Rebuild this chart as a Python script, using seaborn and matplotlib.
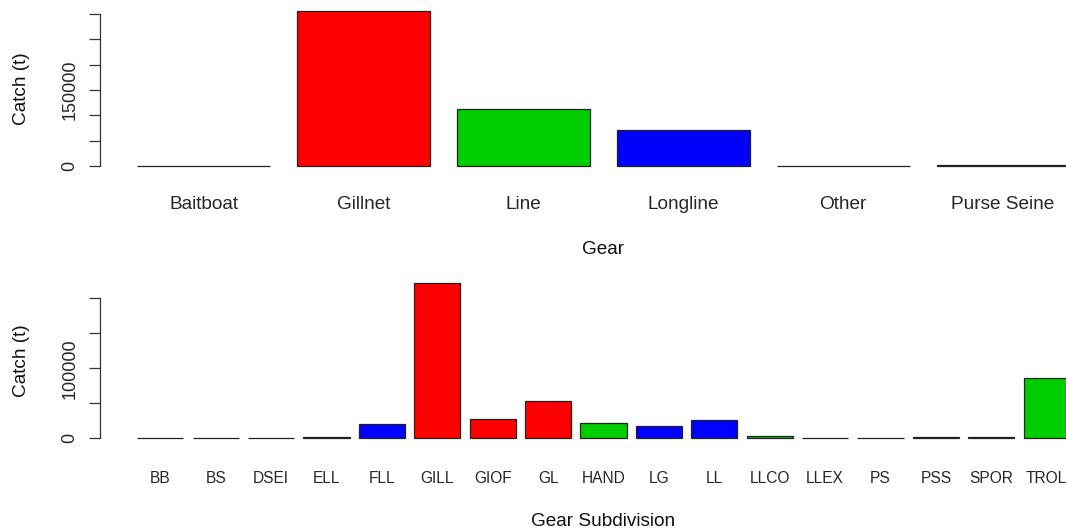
import matplotlib
matplotlib.use("Agg")
import matplotlib.pyplot as plt
import seaborn as sns

# Catch by gear (tonnes)
gear = ["Baitboat", "Gillnet", "Line", "Longline", "Other", "Purse Seine"]
gear_catch = [300, 306500, 112500, 71000, 600, 2500]
gear_colors = ["black", "red", "#00CD00", "blue", "cyan", "magenta"]
gear_ticks = [0, 50000, 100000, 150000, 200000, 250000, 300000]
gear_ticklabels = ["0", "", "", "150000", "", "", ""]

# Catch by gear subdivision (tonnes)
subdiv = ["BB", "BS", "DSEI", "ELL", "FLL", "GILL", "GIOF", "GL", "HAND",
          "LG", "LL", "LLCO", "LLEX", "PS", "PSS", "SPOR", "TROL"]
subdiv_catch = [300, 200, 200, 1800, 20300, 221600, 27600, 53400, 21700,
                17500, 26000, 3500, 200, 200, 1800, 1000, 86500]
subdiv_colors = ["black", "magenta", "cyan", "blue", "blue", "red", "red", "red",
                 "#00CD00", "blue", "blue", "#00CD00", "cyan", "magenta",
                 "magenta", "black", "#00CD00"]
subdiv_ticks = [0, 50000, 100000, 150000, 200000]
subdiv_ticklabels = ["0", "", "100000", "", ""]

sns.set_style("white")
plt.rcParams["font.family"] = ["Liberation Sans", "DejaVu Sans"]

W, H = 1066, 531
fig = plt.figure(figsize=(W / 100, H / 100), dpi=100)

def px_axes(left, top, right, bottom):
    return fig.add_axes([left / W, 1 - bottom / H, (right - left) / W, (bottom - top) / H])

ax1 = px_axes(100, 4.5, 1107, 172.2)
ax2 = px_axes(100, 277.1, 1107, 444.2)

panels = [
    (ax1, gear, gear_catch, gear_colors, gear_ticks, gear_ticklabels, "Gear", 13.7, 0.65, 17),
    (ax2, subdiv, subdiv_catch, subdiv_colors, subdiv_ticks, subdiv_ticklabels,
     "Gear Subdivision", 11.2, 1.09, 19),
]

for ax, cats, vals, cols, ticks, tlabels, xlab, xfs, ext, xpad in panels:
    sns.barplot(x=cats, y=vals, hue=cats, palette=cols, width=1 / 1.2,
                saturation=1, edgecolor="#222222", linewidth=0.9,
                legend=False, ax=ax)
    ymax = max(vals)
    ax.set_ylim(-0.04 * ymax, 1.04 * ymax)
    ax.set_xlim(-ext, len(cats) - 1 + ext)
    for s in ["top", "right", "bottom"]:
        ax.spines[s].set_visible(False)
    ax.spines["left"].set_bounds(ticks[0], ticks[-1])
    ax.spines["left"].set_color("#333333")
    ax.spines["left"].set_linewidth(0.9)
    ax.set_yticks(ticks)
    ax.set_yticklabels(tlabels, rotation=90, va="center")
    ax.tick_params(axis="y", length=8, width=0.9, color="#333333",
                   labelsize=13, pad=7.5, left=True)
    ax.tick_params(axis="x", length=0, labelsize=xfs, pad=xpad)
    ax.set_xlabel(xlab, fontsize=13.7, color="#111111")
    ax.xaxis.set_label_coords(0.5, -77 / 167.5)
    ax.xaxis.label.set_va("center")
    ax.set_ylabel("Catch (t)", fontsize=13.7, color="#111111")
    ax.yaxis.set_label_coords(-78 / 1007, 0.5)
    ax.yaxis.label.set_va("center")
    ax.grid(False)

fig.savefig("out.png", dpi=100)
